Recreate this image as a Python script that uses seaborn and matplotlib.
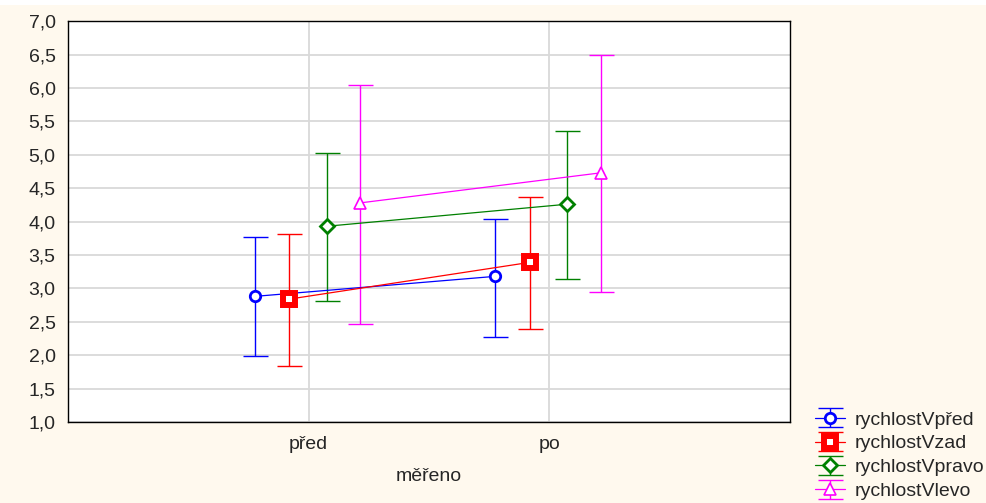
import numpy as np
import pandas as pd
import matplotlib
matplotlib.use("Agg")
import matplotlib.pyplot as plt
import seaborn as sns
from matplotlib.legend_handler import HandlerTuple

# Data (means and interval bounds)
categories = ["před", "po"]
series = ["rychlostVpřed", "rychlostVzad", "rychlostVpravo", "rychlostVlevo"]
means = {
    "rychlostVpřed": [2.88, 3.18],
    "rychlostVzad": [2.84, 3.39],
    "rychlostVpravo": [3.93, 4.26],
    "rychlostVlevo": [4.28, 4.73],
}
lower = {
    "rychlostVpřed": [1.99, 2.27],
    "rychlostVzad": [1.84, 2.39],
    "rychlostVpravo": [2.81, 3.14],
    "rychlostVlevo": [2.47, 2.95],
}
upper = {
    "rychlostVpřed": [3.77, 4.04],
    "rychlostVzad": [3.82, 4.37],
    "rychlostVpravo": [5.02, 5.36],
    "rychlostVlevo": [6.04, 6.49],
}

colors = ["#0000FF", "#FF0000", "#008000", "#FF00FF"]
markers = ["o", "s", "D", "^"]
offsets = [-0.225, -0.08, 0.075, 0.215]

sns.set_style("white")
plt.rcParams['font.family'] = ['Liberation Sans', 'DejaVu Sans']

bg = "#FFF9EE"
fig = plt.figure(figsize=(9.87, 5.03), dpi=100, facecolor=bg)
ax = fig.add_axes([0.0689, 0.161, 0.7315, 0.797])
ax.set_facecolor("white")

# white strip at the very top (cropped title area)
fig.patches.append(plt.Rectangle((0, 0.99), 1, 0.01, transform=fig.transFigure,
                                 facecolor="white", edgecolor="none"))

handles = []
for name, c, m, off in zip(series, colors, markers, offsets):
    x = np.arange(1, len(categories) + 1) + off
    y = np.array(means[name])
    lo = np.array(lower[name])
    hi = np.array(upper[name])
    df = pd.DataFrame({"x": x, "y": y})
    if m == "s":
        mstyle = dict(markersize=9, markerfacecolor="white", markeredgewidth=4.3)
    elif m == "^":
        mstyle = dict(markersize=8, markerfacecolor="white", markeredgewidth=1.2)
    elif m == "D":
        mstyle = dict(markersize=7, markerfacecolor="white", markeredgewidth=2.0)
    else:
        mstyle = dict(markersize=7.5, markerfacecolor="white", markeredgewidth=2.0)
    sns.lineplot(data=df, x="x", y="y", ax=ax, color=c, lw=0.9, marker=m,
                 markeredgecolor=c, legend=False, zorder=4, **mstyle)
    line = ax.lines[-1]
    eb = ax.errorbar(x, y, yerr=[y - lo, hi - y], fmt="none", ecolor=c,
                     elinewidth=1.0, capsize=9, capthick=1.0, zorder=3)
    handles.append((eb, line))

# Axes formatting
fs = 14
ax.set_xlim(0, 3)
ax.set_ylim(1.0, 7.0)
ax.set_xticks([1, 2])
ax.set_xticklabels(categories, fontsize=fs)
yt = np.arange(1.0, 7.01, 0.5)
ax.set_yticks(yt)
ax.set_yticklabels([f"{v:.1f}".replace(".", ",") for v in yt], fontsize=fs)
ax.tick_params(axis="y", direction="in", length=4, width=0.8, pad=9)
ax.tick_params(axis="x", length=0, pad=10)
ax.grid(True, color="#D9D9D9", lw=1.3, zorder=0)
ax.set_axisbelow(True)
for s in ax.spines.values():
    s.set_color("black")
    s.set_linewidth(1.0)
    s.set_visible(True)

ax.set_xlabel("měřeno", fontsize=fs, labelpad=11)
ax.set_ylabel("")

leg = fig.legend(handles, series, loc="upper left", bbox_to_anchor=(0.826, 0.183),
                 frameon=False, fontsize=fs, handlelength=1.55, handletextpad=0.5,
                 labelspacing=0.32, borderaxespad=0, borderpad=0,
                 handler_map={tuple: HandlerTuple(ndivide=1)})

fig.savefig("out.png", dpi=100, facecolor=bg)
